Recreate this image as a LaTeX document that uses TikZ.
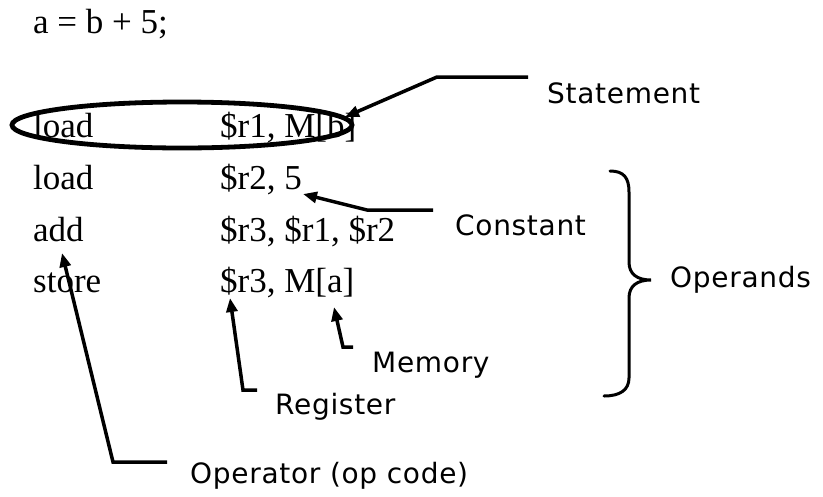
\documentclass[tikz,border=0pt]{standalone}
\usepackage{fontspec}
\setmainfont{Liberation Serif}
\newfontfamily\labelfont[LetterSpace=2.5]{DejaVu Sans}
\usetikzlibrary{arrows.meta}

\tikzset{
  code/.style={anchor=base west, inner sep=0pt, font=\fontsize{35}{35}\selectfont},
  tag/.style={anchor=base west, inner sep=0pt, font=\labelfont\fontsize{28}{28}\selectfont},
  pointer/.style={line width=3.5pt, -{Triangle[length=14pt,width=11pt]}},
  ring/.style={line width=4.8pt},
  bracket/.style={line width=3pt, line cap=round}
}

\begin{document}
\begin{tikzpicture}[x=1pt, y=-1pt]
  \useasboundingbox (0,0) rectangle (823,496);

  % source statement
  \node[code] (src) at (33,33) {a = b + 5;};

  % instruction listing
  \node[code] (op1) at (33,137) {load};
  \node[code] (arg1) at (220,137) {\$r1, M[b]};
  \node[code] (op2) at (33,189) {load};
  \node[code] (arg2) at (220,189) {\$r2, 5};
  \node[code] (op3) at (33,241) {add};
  \node[code] (arg3) at (220,241) {\$r3, \$r1, \$r2};
  \node[code] (op4) at (33,292) {store};
  \node[code] (arg4) at (220,292) {\$r3, M[a]};

  % outline around the first instruction
  \draw[ring] (182,125) ellipse [x radius=170, y radius=23];

  % labels
  \node[tag] (lstmt) at (547,103) {Statement};
  \node[tag] (lconst) at (455,235) {Constant};
  \node[tag] (lopnd) at (670,287) {Operands};
  \node[tag] (lmem) at (372,372) {Memory};
  \node[tag] (lreg) at (275,414) {Register};
  \node[tag] (lopc) at (190,483) {Operator (op code)};

  % leader line ends and tips
  \coordinate (stEnd) at (528,77);
  \coordinate (stBend) at (437,77);
  \coordinate (stTip) at (345,117);
  \coordinate (coEnd) at (433,210);
  \coordinate (coBend) at (367,210);
  \coordinate (coTip) at (303,194);
  \coordinate (meEnd) at (353,347);
  \coordinate (meBend) at (343,347);
  \coordinate (meTip) at (334,307);
  \coordinate (reEnd) at (257,390);
  \coordinate (reBend) at (243,390);
  \coordinate (reTip) at (230,298);
  \coordinate (opEnd) at (167,462);
  \coordinate (opBend) at (113,462);
  \coordinate (opTip) at (62,253);

  \draw[pointer] (stEnd) -- (stBend) -- (stTip);
  \draw[pointer] (coEnd) -- (coBend) -- (coTip);
  \draw[pointer] (meEnd) -- (meBend) -- (meTip);
  \draw[pointer] (reEnd) -- (reBend) -- (reTip);
  \draw[pointer] (opEnd) -- (opBend) -- (opTip);

  % brace grouping the operand column
  \coordinate (brTop) at (610,171);
  \coordinate (brTip) at (651,280);
  \coordinate (brBot) at (604,396);
  \draw[bracket] (brTop) .. controls (624,171) and (629,178) .. (629,192)
    -- (629,262) .. controls (629,274) and (637,280) .. (brTip)
    .. controls (637,280) and (629,286) .. (629,298)
    -- (629,378) .. controls (629,390) and (620,396) .. (brBot);
\end{tikzpicture}
\end{document}
